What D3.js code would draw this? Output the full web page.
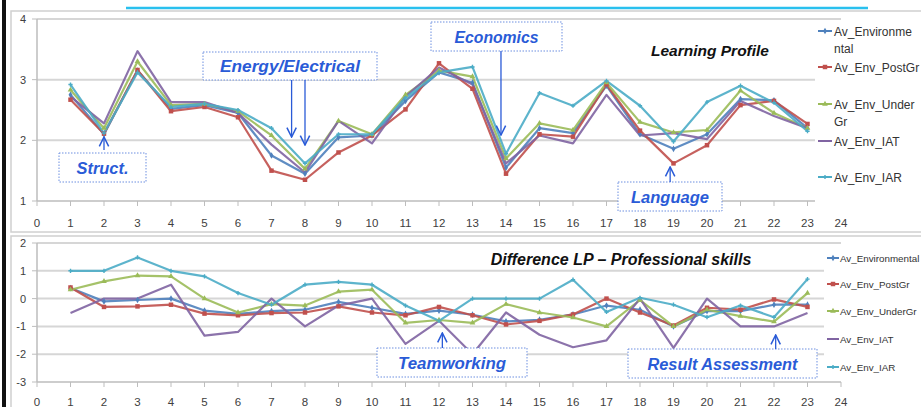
<!DOCTYPE html>
<html><head><meta charset="utf-8">
<script src="https://cdn.jsdelivr.net/npm/d3@7"></script>
<style>
html,body{margin:0;padding:0;background:#fff;}
svg{display:block;font-family:"Liberation Sans",Arial,sans-serif;}
</style></head>
<body><svg id="c" width="921" height="407"></svg>
<script>
const xValues = d3.range(1, 24);
const seriesNames = ["Av_Environmental","Av_Env_PostGr","Av_Env_UnderGr","Av_Env_IAT","Av_Env_IAR"];
const seriesColors = ["#4F81BD","#C0504D","#9BBB59","#8064A2","#4BACC6"];
const markerKinds = ["diamond","square","triangle","none","star"];

// Learning Profile (top chart)
const lpEnv    = [2.75,2.10,3.15,2.52,2.58,2.45,1.75,1.45,2.05,2.08,2.65,3.12,2.95,1.55,2.20,2.12,2.90,2.10,1.86,2.10,2.68,2.66,2.20];
const lpPostGr = [2.67,2.11,3.16,2.48,2.55,2.38,1.50,1.35,1.80,2.08,2.51,3.27,2.85,1.45,2.10,2.06,2.92,2.16,1.62,1.92,2.58,2.65,2.27];
const lpUnderGr= [2.83,2.20,3.30,2.58,2.60,2.48,2.08,1.53,2.32,2.10,2.75,3.15,3.05,1.70,2.28,2.17,2.95,2.30,2.13,2.17,2.82,2.45,2.20];
const lpIAT    = [2.72,2.28,3.47,2.63,2.63,2.45,1.93,1.47,2.32,1.95,2.72,3.20,2.92,1.62,2.08,1.95,2.75,2.08,2.12,2.02,2.65,2.40,2.20];
const lpIAR    = [2.92,2.12,3.12,2.55,2.60,2.50,2.20,1.62,2.10,2.10,2.70,3.12,3.21,1.78,2.78,2.57,2.98,2.57,1.98,2.63,2.90,2.62,2.15];

// Difference LP - Professional skills (bottom chart)
const dfEnv    = [0.38,-0.10,-0.05,0.00,-0.43,-0.55,-0.45,-0.40,-0.12,-0.33,-0.55,-0.43,-0.58,-0.82,-0.76,-0.57,-0.25,-0.40,-1.00,-0.45,-0.45,-0.22,-0.22];
const dfPostGr = [0.40,-0.30,-0.28,-0.22,-0.54,-0.60,-0.52,-0.50,-0.28,-0.50,-0.60,-0.30,-0.60,-0.93,-0.80,-0.57,0.00,-0.50,-0.97,-0.33,-0.40,-0.03,-0.30];
const dfUnderGr= [0.32,0.62,0.83,0.80,0.00,-0.50,-0.20,-0.25,0.25,0.32,-0.87,-0.77,-0.87,-0.20,-0.50,-0.68,-1.00,-0.05,-1.00,-0.40,-0.63,-0.83,0.20];
const dfIAT    = [-0.52,0.00,0.00,0.50,-1.33,-1.20,0.00,-1.00,-0.25,0.00,-1.63,-0.80,-2.00,-0.50,-1.30,-1.75,-1.50,0.00,-1.77,0.00,-1.00,-1.00,-0.52];
const dfIAR    = [1.00,1.00,1.48,1.00,0.80,0.20,-0.22,0.50,0.60,0.50,-0.25,-0.80,0.00,0.00,0.00,0.68,-0.48,0.03,-0.22,-0.67,-0.25,-0.67,0.70];

const xTicks = d3.range(0, 25);
const topYTicks = [1,2,3,4];
const botYTicks = [-3,-2,-1,0,1,2];

const topTitle = "Learning Profile";
const botTitle = "Difference LP \u2013 Professional  skills";
const topLegend = [["Av_Environme","ntal"],["Av_Env_PostGr"],["Av_Env_Under","Gr"],["Av_Env_IAT"],["Av_Env_IAR"]];
const botLegend = ["Av_Environmental","Av_Env_PostGr","Av_Env_UnderGr","Av_Env_IAT","Av_Env_IAR"];

const svg = d3.select("#c");
const x = d3.scaleLinear().domain([0,24]).range([37,841]);
const yT = d3.scaleLinear().domain([1,4]).range([201,19]);
const yB = d3.scaleLinear().domain([-3,2]).range([382,243]);

// frame decorations
svg.append("rect").attr("x",11).attr("y",11).attr("width",915).attr("height",221).attr("fill","none").attr("stroke","#d0d0d0").attr("stroke-width",1.5);
svg.append("rect").attr("x",11).attr("y",236).attr("width",915).attr("height",175).attr("fill","none").attr("stroke","#d0d0d0").attr("stroke-width",1.5);
svg.append("line").attr("x1",126).attr("x2",868).attr("y1",8).attr("y2",8).attr("stroke","#29C0EE").attr("stroke-width",2.5);
svg.append("rect").attr("x",2).attr("y",0).attr("width",4).attr("height",407).attr("fill","#111");

function symType(k){ return k==="diamond"?d3.symbolDiamond:k==="square"?d3.symbolSquare:k==="triangle"?d3.symbolTriangle:d3.symbolCross; }
function symSize(k){ return k==="square"?20:k==="star"?10:k==="triangle"?14:13; }

function drawChart(y, yTicks, labelY, data, legendBox) {
  const g = svg.append("g");
  g.selectAll(".gl").data(yTicks.slice(1)).join("line")
    .attr("x1",x(0)).attr("x2",x(24)).attr("y1",d=>y(d)).attr("y2",d=>y(d))
    .attr("stroke","#d6d6d6").attr("stroke-width",2);
  const y0 = y(yTicks[0]);
  g.append("line").attr("x1",x(0)).attr("x2",x(24)).attr("y1",y0).attr("y2",y0).attr("stroke","#bdbdbd").attr("stroke-width",1.5);
  g.selectAll(".xt").data(xTicks).join("line")
    .attr("x1",d=>x(d)).attr("x2",d=>x(d)).attr("y1",y0).attr("y2",y0+5).attr("stroke","#bdbdbd");
  g.append("line").attr("x1",x(0)).attr("x2",x(0)).attr("y1",y(yTicks[yTicks.length-1])).attr("y2",y0).attr("stroke","#bdbdbd").attr("stroke-width",1.5);
  g.selectAll(".yt").data(yTicks).join("line")
    .attr("x1",x(0)-5).attr("x2",x(0)).attr("y1",d=>y(d)).attr("y2",d=>y(d)).attr("stroke","#bdbdbd");
  g.selectAll(".yl").data(yTicks).join("text")
    .attr("x",x(0)-11).attr("y",d=>y(d)+4).attr("text-anchor","end")
    .attr("font-size",11).attr("fill","#404040").text(d=>d);
  g.selectAll(".xl").data(xTicks).join("text")
    .attr("x",d=>x(d)).attr("y",labelY).attr("text-anchor","middle")
    .attr("font-size",11.5).attr("fill","#404040").text(d=>d);
  const line = d3.line().x((d,i)=>x(xValues[i])).y(d=>y(d));
  data.forEach((vals,si)=>{
    g.append("path").datum(vals).attr("d",line).attr("fill","none")
      .attr("stroke",seriesColors[si]).attr("stroke-width",2.2).attr("stroke-linejoin","round").attr("opacity",0.9);
  });
  data.forEach((vals,si)=>{
    const k = markerKinds[si];
    if (k==="none") return;
    g.selectAll(null).data(vals).join("path")
      .attr("transform",(d,i)=>`translate(${x(xValues[i])},${y(d)})`)
      .attr("d",d3.symbol().type(symType(k)).size(symSize(k))).attr("fill",seriesColors[si]);
  });
  g.append("rect").attr("x",legendBox[0]).attr("y",legendBox[1]).attr("width",legendBox[2]).attr("height",legendBox[3]).attr("fill","#fff");
}

drawChart(yT, topYTicks, 227, [lpEnv,lpPostGr,lpUnderGr,lpIAT,lpIAR], [815,22,106,185]);
drawChart(yB, botYTicks, 405.5, [dfEnv,dfPostGr,dfUnderGr,dfIAT,dfIAR], [824,248,97,130]);

// top legend
const tlY = [31,67,104,141,177];
topLegend.forEach((lines,i)=>{
  const yy = tlY[i];
  svg.append("line").attr("x1",818).attr("x2",832).attr("y1",yy).attr("y2",yy).attr("stroke",seriesColors[i]).attr("stroke-width",2);
  if (markerKinds[i]!=="none")
    svg.append("path").attr("transform",`translate(825,${yy})`).attr("d",d3.symbol().type(symType(markerKinds[i])).size(symSize(markerKinds[i]))).attr("fill",seriesColors[i]);
  lines.forEach((t,j)=>{
    svg.append("text").attr("x",834).attr("y",yy+4.5+j*17).attr("font-size",12).attr("fill","#333").text(t);
  });
});
// bottom legend
const blY = [258,284,311,339,367];
botLegend.forEach((t,i)=>{
  const yy = blY[i];
  svg.append("line").attr("x1",827).attr("x2",839).attr("y1",yy).attr("y2",yy).attr("stroke",seriesColors[i]).attr("stroke-width",2);
  if (markerKinds[i]!=="none")
    svg.append("path").attr("transform",`translate(833,${yy})`).attr("d",d3.symbol().type(symType(markerKinds[i])).size(symSize(markerKinds[i]))).attr("fill",seriesColors[i]);
  svg.append("text").attr("x",840).attr("y",yy+4).attr("font-size",9.8).attr("fill","#333").text(t);
});

// titles
svg.append("text").attr("x",710).attr("y",56).attr("text-anchor","middle").attr("font-size",15.5).attr("font-weight","bold").attr("font-style","italic").attr("fill","#111").text(topTitle);
svg.append("text").attr("x",621).attr("y",265).attr("text-anchor","middle").attr("font-size",16).attr("font-weight","bold").attr("font-style","italic").attr("fill","#111").text(botTitle);

// annotations
const annBlue = "#2A5BD7";
svg.append("defs").append("marker").attr("id","ah").attr("viewBox","0 0 10 10").attr("refX",9).attr("refY",5)
  .attr("markerWidth",9).attr("markerHeight",9).attr("orient","auto-start-reverse")
  .append("path").attr("d","M1,1 L9,5 L1,9").attr("fill","none").attr("stroke",annBlue).attr("stroke-width",1.3);

const annotations = [
  {text:"Struct.", box:[59,153,87,29], w:52, arrows:[[2,150,137]]},
  {text:"Energy/Electrical", box:[203,52,174,28], w:140, arrows:[[7.6,80,137],[8,80,145]]},
  {text:"Economics", box:[431,22,131,29], w:84, arrows:[[13.85,51,135]]},
  {text:"Language", box:[618,182,104,29], w:78, arrows:[[18.9,182,167]]},
  {text:"Teamworking", box:[377,348,150,29], w:108, arrows:[[12.1,348,333]]},
  {text:"Result Assessment", box:[628,349,189,29], w:150, arrows:[[22.05,349,335]]}
];
annotations.forEach(a=>{
  const [bx,by,bw,bh] = a.box;
  svg.append("rect").attr("x",bx).attr("y",by).attr("width",bw).attr("height",bh)
    .attr("fill","#fff").attr("stroke","#6C8FE0").attr("stroke-width",1).attr("stroke-dasharray","1.5,1.5");
  svg.append("text").attr("x",bx+bw/2).attr("y",by+bh/2+6).attr("text-anchor","middle")
    .attr("font-size",16).attr("font-weight","bold").attr("font-style","italic").attr("fill",annBlue)
    .attr("textLength",a.w).attr("lengthAdjust","spacingAndGlyphs").text(a.text);
  a.arrows.forEach(([xv,y1,y2])=>{
    svg.append("line").attr("x1",x(xv)).attr("x2",x(xv)).attr("y1",y1).attr("y2",y2)
      .attr("stroke",annBlue).attr("stroke-width",1.3).attr("marker-end","url(#ah)");
  });
});
</script></body></html>
